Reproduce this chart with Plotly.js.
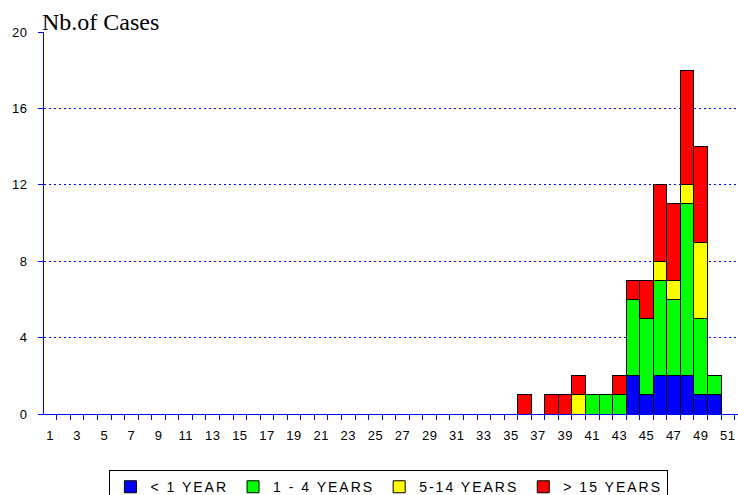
<!DOCTYPE html>
<html>
<head>
<meta charset="utf-8">
<script src="https://cdn.plot.ly/plotly-3.0.1.min.js"></script>
<style>
  html, body { margin: 0; padding: 0; background: #fff; }
  #chart { width: 738px; height: 495px; }
  .legendtext { letter-spacing: 2px; }
  .xtick text, .ytick text { letter-spacing: 0.5px; }
</style>
</head>
<body>
<div id="chart"></div>
<script>
// Week categories (x axis)
const weeks = ['1','2','3','4','5','6','7','8','9','10','11','12','13','14','15','16','17','18','19','20',
  '21','22','23','24','25','26','27','28','29','30','31','32','33','34','35','36','37','38','39','40',
  '41','42','43','44','45','46','47','48','49','50','51'];
// Tick labels shown (odd weeks only)
const tickLabels = ['1','','3','','5','','7','','9','','11','','13','','15','','17','','19','','21','','23','','25','','27','','29','','31','','33','','35','','37','','39','','41','','43','','45','','47','','49','','51'];

// Weeks with cases
const dataWeeks = ['36','37','38','39','40','41','42','43','44','45','46','47','48','49','50'];
// Series values (number of cases per age group)
const under1   = [0,0,0,0,0,0,0,0,2,1,2,2,2,1,1];
const age1to4  = [0,0,0,0,0,1,1,1,4,4,5,4,9,4,1];
const age5to14 = [0,0,0,0,1,0,0,0,0,0,1,1,1,4,0];
const over15   = [1,0,1,1,1,0,0,1,1,2,4,4,6,5,0];

const seriesNames = ['< 1 YEAR', '1 - 4 YEARS', '5-14 YEARS', '> 15 YEARS'];
const seriesColors = ['#0000FF', '#00FF00', '#FFFF00', '#FF0000'];
const seriesValues = [under1, age1to4, age5to14, over15];

const traces = seriesValues.map((vals, i) => ({
  type: 'bar',
  name: seriesNames[i],
  x: dataWeeks,
  y: vals.map(v => (v === 0 ? null : v)),
  marker: { color: seriesColors[i], line: { color: '#000000', width: 1 } },
  hoverinfo: 'x+y+name'
}));

const layout = {
  width: 738,
  height: 495,
  margin: { l: 44, r: 0, t: 32, b: 81, pad: 0, autoexpand: false },
  paper_bgcolor: '#ffffff',
  plot_bgcolor: '#ffffff',
  barmode: 'stack',
  bargap: 0,
  font: { family: 'Liberation Sans, Arial, sans-serif', size: 13, color: '#000000' },
  xaxis: {
    type: 'category',
    categoryorder: 'array',
    categoryarray: weeks,
    tickmode: 'array',
    tickvals: weeks,
    ticktext: tickLabels,
    tickson: 'boundaries',
    tickangle: 0,
    range: [-0.45, 50.75],
    showline: true,
    linecolor: '#0000FF',
    linewidth: 1,
    ticks: 'outside',
    ticklen: 5,
    tickcolor: '#0000FF',
    tickwidth: 1,
    showgrid: false,
    zeroline: false,
    automargin: false,
    ticklabelstandoff: 9,
    tickfont: { size: 13, color: '#000000' },
    fixedrange: true
  },
  yaxis: {
    range: [0, 20],
    tickmode: 'array',
    tickvals: [0, 4, 8, 12, 16, 20],
    showline: true,
    linecolor: '#0000FF',
    linewidth: 1,
    ticks: 'outside',
    ticklen: 5,
    tickcolor: '#0000FF',
    tickwidth: 1,
    showgrid: true,
    gridcolor: '#0000FF',
    gridwidth: 1,
    griddash: '2px,3px',
    zeroline: false,
    automargin: false,
    ticklabelstandoff: 8,
    tickfont: { size: 13, color: '#000000' },
    fixedrange: true
  },
  legend: {
    orientation: 'h',
    x: 0.497,
    xanchor: 'center',
    y: -0.147,
    yanchor: 'top',
    bgcolor: '#ffffff',
    bordercolor: '#000000',
    borderwidth: 1,
    traceorder: 'normal',
    font: { family: 'Liberation Sans, Arial, sans-serif', size: 14, color: '#000000' }
  },
  annotations: [{
    text: 'Nb.of Cases',
    xref: 'paper', yref: 'paper',
    x: -4 / 694, y: 1,
    xanchor: 'left', yanchor: 'bottom',
    yshift: -5,
    showarrow: false,
    font: { family: 'Liberation Serif, Times New Roman, serif', size: 24, color: '#000000' }
  }],
  showlegend: true
};

Plotly.newPlot('chart', traces, layout, { displayModeBar: false, staticPlot: true });
</script>
</body>
</html>
